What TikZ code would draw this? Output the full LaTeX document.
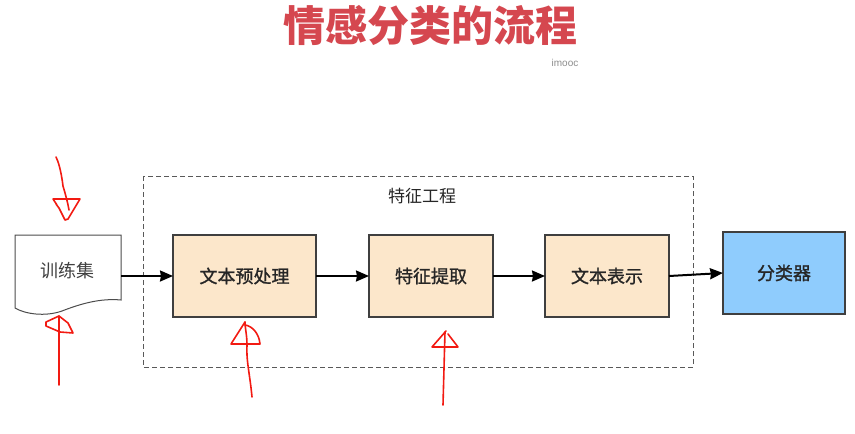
\documentclass[tikz,border=0pt]{standalone}
\usepackage{fontspec}
\setmainfont{Liberation Sans}
\newfontfamily\cjk{Noto Sans CJK SC}
\newfontfamily\cjkl[BoldFont={Noto Sans CJK SC}, BoldFeatures={FakeBold=1.2}]{Noto Sans CJK SC}
\usetikzlibrary{arrows.meta}
\definecolor{titlered}{HTML}{D5474F}
\definecolor{beige}{HTML}{FCE7CB}
\definecolor{skyblue}{HTML}{8FCCFD}
\definecolor{edgegray}{HTML}{3F3F3F}
\definecolor{pen}{HTML}{F21A12}
\tikzset{
  lbl/.style={font=\cjkl\bfseries\fontsize{18}{21}\selectfont, text=black!85},
  procbox/.style={draw=edgegray, fill=beige, line width=1.1pt, inner sep=0pt, outer sep=0pt,
    minimum height=82pt, lbl},
  clsbox/.style={procbox, fill=skyblue},
  flow/.style={line width=2pt, -{Stealth[length=13pt,width=11pt,inset=1pt]}},
  penline/.style={draw=pen, line width=1.6pt, line join=round, line cap=round},
}
\begin{document}
\begin{tikzpicture}[x=1pt,y=-1pt]
\useasboundingbox (0,0) rectangle (855,434);
% title
\node[font=\cjk\bfseries\fontsize{42}{46}\selectfont, text=titlered] (title) at (430,25) {情感分类的流程};
\node[font=\fontsize{10}{12}\selectfont, text=black!45] (imooc) at (565,63) {imooc};
% dashed group
\draw[draw=black!65, line width=1pt, dash pattern=on 5pt off 3pt] (143,176) rectangle (693,367);
\node[lbl, font=\cjk\fontsize{17}{20}\selectfont] (fe) at (422,196) {特征工程};
% document shape
\draw[draw=black!70, fill=white, line width=1pt]
  (15,235) -- (121,235) -- (121,300)
  .. controls (100,298) and (80,304) .. (62,311)
  .. controls (45,317) and (25,314) .. (15,308) -- cycle;
\node[lbl, font=\cjk\fontsize{18}{21}\selectfont, text=black!75] (doc) at (67,271) {训练集};
\coordinate (docE) at (121,276);
% process boxes
\node[procbox, minimum width=143pt] (b1) at (244.5,276) {文本预处理};
\node[procbox, minimum width=124pt] (b2) at (431,276) {特征提取};
\node[procbox, minimum width=124pt] (b3) at (607,276) {文本表示};
\node[clsbox, minimum width=122pt] (cls) at (784,273) {分类器};
% flow arrows
\draw[flow] (docE) -- (b1.west);
\draw[flow] (b1.east) -- (b2.west);
\draw[flow] (b2.east) -- (b3.west);
\draw[flow] (b3.east) -- (cls.west);
% red hand-drawn arrows
\draw[penline] (56,157) .. controls (60,165) and (62,178) .. (63,186) .. controls (66,196) and (68,204) .. (69,210);
\draw[penline] (57,205) -- (53,199) -- (80,199) -- (68,219) -- (65,220) -- (59,208) -- (56,204);
\draw[penline] (59,385) -- (59,316);
\draw[penline] (59,316) -- (46,322) -- (46,326) -- (60,332) -- (73,333) -- (68,323) -- cycle;
\draw[penline] (252,397) .. controls (250,375) and (246,360) .. (247,345) .. controls (247,335) and (245,328) .. (245,322);
\draw[penline] (245,322) -- (231,344) -- (260,344) .. controls (259,333) and (252,326) .. (245,325);
\draw[penline] (443,405) -- (445,332);
\draw[penline] (446,331) -- (432,347) -- (458,347) -- (448,334);
\end{tikzpicture}
\end{document}
